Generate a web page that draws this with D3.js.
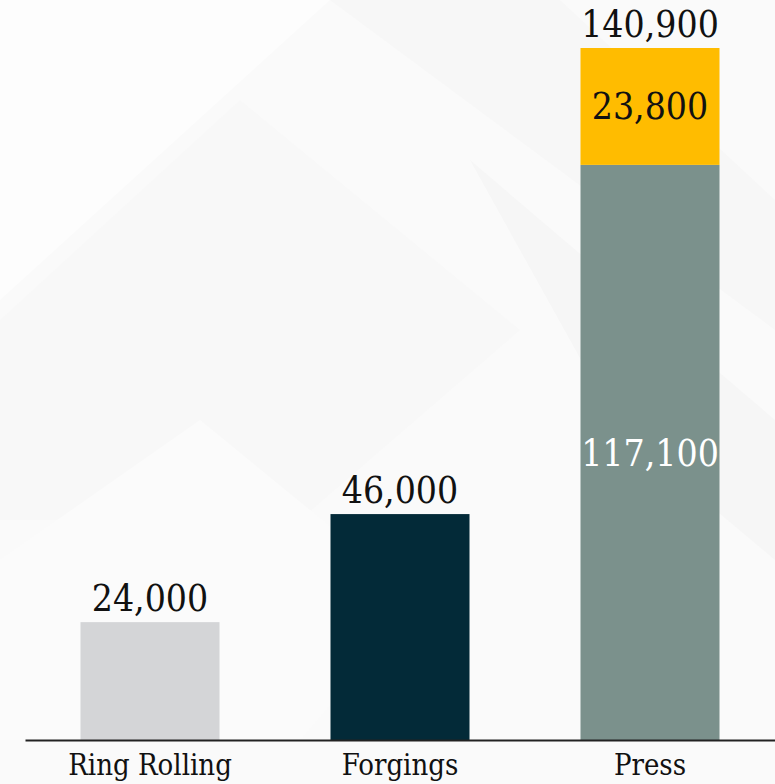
<!DOCTYPE html>
<html><head><meta charset="utf-8">
<script src="https://cdn.jsdelivr.net/npm/d3@7"></script>
<style>html,body{margin:0;padding:0;background:#fafafa;}svg{display:block;}</style>
</head><body>
<svg id="chart" width="775" height="784"></svg>
<script>
const categories = ["Ring Rolling", "Forgings", "Press"];
const baseValues = [24000, 46000, 117100];
const topValues = [0, 0, 23800];
const baseColors = ["#d4d5d7", "#032a38", "#7b918c"];
const topColor = "#ffbc00";

const W = 775, H = 784;
const svg = d3.select("#chart");
const font = "'DejaVu Serif Condensed', 'DejaVu Serif', serif";

// subtle background geometry
const bg = svg.append("g");
bg.append("rect").attr("width", W).attr("height", H).attr("fill", "#fafafa");
const polys = [
  [[0,0],[330,0],[0,300]],
  [[330,0],[560,0],[775,200],[775,330]],
  [[0,320],[240,100],[520,330],[300,520],[0,520]],
  [[470,160],[775,420],[775,560],[620,430]],
  [[0,560],[200,420],[420,600],[300,740],[0,740]]
];
const fills = ["#fdfdfd","#f7f7f7","#f8f8f8","#f6f6f6","#fbfbfb"];
bg.selectAll("path").data(polys).join("path")
  .attr("d", d => "M" + d.join("L") + "Z")
  .attr("fill", (d,i) => fills[i]);

const x = d3.scaleBand().domain(categories).range([25, 775]).paddingInner(0.444).paddingOuter(0.222);
const totals = categories.map((c,i) => baseValues[i] + topValues[i]);
const y = d3.scaleLinear().domain([0, 140900]).range([740, 48]);

const g = svg.append("g");
g.selectAll("rect.base").data(categories).join("rect")
  .attr("class","base")
  .attr("x", d => x(d)).attr("width", x.bandwidth())
  .attr("y", (d,i) => y(baseValues[i]))
  .attr("height", (d,i) => y(0) - y(baseValues[i]))
  .attr("fill", (d,i) => baseColors[i]);

g.selectAll("rect.top").data(categories.filter((d,i) => topValues[i] > 0)).join("rect")
  .attr("class","top")
  .attr("x", d => x(d)).attr("width", x.bandwidth())
  .attr("y", d => { const i = categories.indexOf(d); return y(baseValues[i] + topValues[i]); })
  .attr("height", d => { const i = categories.indexOf(d); return y(baseValues[i]) - y(baseValues[i] + topValues[i]); })
  .attr("fill", topColor);

const fmt = d3.format(",");
const fs = 37;
g.selectAll("text.total").data(categories).join("text")
  .attr("class","total")
  .attr("x", d => x(d) + x.bandwidth()/2)
  .attr("y", (d,i) => y(totals[i]) - 11)
  .attr("text-anchor","middle")
  .attr("font-family", font).attr("font-size", fs).attr("fill","#111")
  .text((d,i) => fmt(totals[i]));

categories.forEach((c,i) => {
  if (topValues[i] > 0) {
    g.append("text")
      .attr("x", x(c) + x.bandwidth()/2)
      .attr("y", (y(baseValues[i]) + y(baseValues[i]+topValues[i]))/2 + 13)
      .attr("text-anchor","middle")
      .attr("font-family", font).attr("font-size", fs).attr("fill","#111")
      .text(fmt(topValues[i]));
    g.append("text")
      .attr("x", x(c) + x.bandwidth()/2)
      .attr("y", (y(0) + y(baseValues[i]))/2 + 14)
      .attr("text-anchor","middle")
      .attr("font-family", font).attr("font-size", fs).attr("fill","#ffffff")
      .text(fmt(baseValues[i]));
  }
});

const xAxis = d3.axisBottom(x).tickSize(0).tickPadding(14);
const ax = svg.append("g").attr("transform", `translate(0,${y(0)})`).call(xAxis);
ax.select(".domain").attr("stroke","#222").attr("stroke-width",2);
ax.selectAll("text").attr("font-family", font).attr("font-size", 29).attr("fill","#111");
</script>
</body></html>
